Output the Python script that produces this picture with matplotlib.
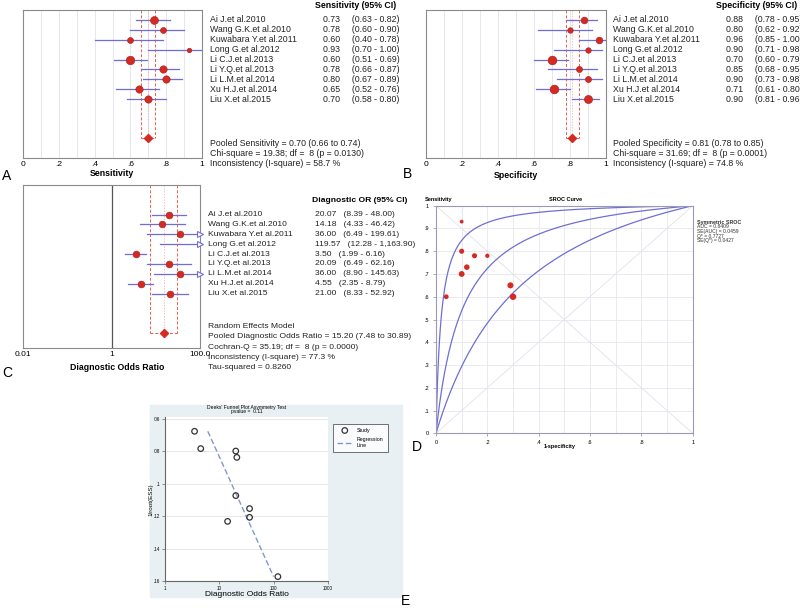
import numpy as np
import matplotlib.pyplot as plt
import matplotlib.transforms as mtransforms
from matplotlib.patches import Rectangle

plt.rcParams['font.family'] = ['Liberation Sans', 'DejaVu Sans']

# ---- data ----
studies = ['Ai J.et al.2010', 'Wang G.K.et al.2010', 'Kuwabara Y.et al.2011',
           'Long G.et al.2012', 'Li C.J.et al.2013', 'Li Y.Q.et al.2013',
           'Li L.M.et al.2014', 'Xu H.J.et al.2014', 'Liu X.et al.2015']

sens = [0.73, 0.78, 0.60, 0.93, 0.60, 0.78, 0.80, 0.65, 0.70]
sens_lo = [0.63, 0.60, 0.40, 0.70, 0.51, 0.66, 0.67, 0.52, 0.58]
sens_hi = [0.82, 0.90, 0.78, 1.00, 0.69, 0.87, 0.89, 0.76, 0.80]
sens_w = [14.2, 8.0, 8.0, 4.7, 16.4, 12.2, 12.2, 12.2, 12.2]
sens_pool = (0.70, 0.66, 0.74)
sens_stats = ['Pooled Sensitivity = 0.70 (0.66 to 0.74)',
              'Chi-square = 19.38; df =  8 (p = 0.0130)',
              'Inconsistency (I-square) = 58.7 %']

spec = [0.88, 0.80, 0.96, 0.90, 0.70, 0.85, 0.90, 0.71, 0.90]
spec_lo = [0.78, 0.62, 0.85, 0.71, 0.60, 0.68, 0.73, 0.61, 0.81]
spec_hi = [0.95, 0.92, 1.00, 0.98, 0.79, 0.95, 0.98, 0.80, 0.96]
spec_w = [10.2, 6.8, 10.2, 6.8, 17.2, 8.4, 8.4, 17.2, 14.9]
spec_pool = (0.81, 0.78, 0.85)
spec_stats = ['Pooled Specificity = 0.81 (0.78 to 0.85)',
              'Chi-square = 31.69; df =  8 (p = 0.0001)',
              'Inconsistency (I-square) = 74.8 %']

dor = [20.07, 14.18, 36.00, 119.57, 3.50, 20.09, 36.00, 4.55, 21.00]
dor_lo = [8.39, 4.33, 6.49, 12.28, 1.99, 6.49, 8.90, 2.35, 8.33]
dor_hi = [48.00, 46.42, 199.61, 1163.90, 6.16, 62.16, 145.63, 8.79, 52.92]
dor_w = [11.5, 11.0, 11.0, 9.0, 11.5, 11.5, 11.5, 11.5, 11.5]
dor_pool = (15.20, 7.48, 30.89)
dor_stats = ['Random Effects Model',
             'Pooled Diagnostic Odds Ratio = 15.20 (7.48 to 30.89)',
             'Cochran-Q = 35.19; df =  8 (p = 0.0000)',
             'Inconsistency (I-square) = 77.3 %',
             'Tau-squared = 0.8260']

sroc_dor = [3.75, 10.5, 50.0]
sroc_stats = ['AUC = 0.8409', 'SE(AUC) = 0.0459', 'Q* = 0.7727', 'SE(Q*) = 0.0427']

# Deeks funnel: 1/root(ESS) per study
inv_ess = [0.0798, 0.1232, 0.1153, 0.1573, 0.0676, 0.1073, 0.1207, 0.0783, 0.0837]
deeks_p = 0.11

W, H = 800, 615
RED = '#d42a22'
BLUE = '#6e6ed6'
fig = plt.figure(figsize=(8, 6.15), dpi=100)


def add_ax(x0, y0, x1, y1):
    return fig.add_axes([x0 / W, 1 - y1 / H, (x1 - x0) / W, (y1 - y0) / H])


def ftext(x, y, s, **kw):
    fig.text(x / W, 1 - y / H, s, **kw)


def forest(ax, est, lo, hi, w, pool, rows, prow, xmin, xmax, k):
    for i in range(len(est)):
        y = rows[i]
        ax.plot([max(lo[i], xmin), min(hi[i], xmax)], [y, y], color=BLUE, lw=0.9, zorder=2)
        if hi[i] > xmax:
            ax.plot([xmax], [y], marker='>', ms=5, mfc='white', mec=BLUE, mew=0.8,
                    clip_on=False, zorder=3)
        if xmin <= est[i] <= xmax:
            ax.scatter([est[i]], [y], s=k * w[i], color=RED, edgecolor='#a81c18',
                       lw=0.4, zorder=4)
    p, pl, ph = pool
    dash = dict(color='#ec5a48', lw=0.7, dashes=(3, 2), zorder=1)
    ax.plot([pl, pl], [0, prow], **dash)
    ax.plot([ph, ph], [0, prow], **dash)
    ax.plot([pl, ph], [prow, prow], **dash)
    ax.plot([p, p], [0, prow], color='#f2a8a0', lw=0.5, dashes=(2, 2), zorder=1)
    ax.plot([p], [prow], marker='D', ms=4.5, color=RED, zorder=4)
    for s in ax.spines.values():
        s.set_color('#8a8a8a')
        s.set_linewidth(0.8)
    ax.set_yticks([])


def row_texts(ax, rows, xname, xval, vals, los, his, header, xhead, yhead, fs, fmt):
    tr = mtransforms.blended_transform_factory(fig.transFigure, ax.transData)
    for i in range(len(rows)):
        ax.text(xname / W, rows[i], studies[i], transform=tr, fontsize=fs, va='center',
                color='#222222')
        ax.text(xval / W, rows[i], fmt(vals[i], los[i], his[i]), transform=tr,
                fontsize=fs, va='center', color='#222222')
    ftext(xhead, yhead, header, fontsize=fs, weight='bold', va='center')


def prop_fmt(v, lo, hi):
    return f'{v:.2f}     ({lo:.2f} - {hi:.2f})'


def dor_fmt(v, lo, hi):
    return f'{v:,.2f}   ({lo:,.2f} - {hi:,.2f})'


# ---- A: sensitivity ----
rowsAB = np.arange(1, 10)
axA = add_ax(23, 10, 202, 158)
axA.set_xlim(0, 1)
axA.set_ylim(14.93, 0)
for g in np.arange(0.1, 1.0, 0.1):
    axA.axvline(g, color='#e2e2ea', lw=0.6, zorder=0)
forest(axA, sens, sens_lo, sens_hi, sens_w, sens_pool, rowsAB, 12.9, 0, 1, 2.3)
axA.set_xticks([0, .2, .4, .6, .8, 1])
axA.set_xticklabels(['0', '.2', '.4', '.6', '.8', '1'], fontsize=6)
axA.tick_params(axis='x', length=0, pad=2)
row_texts(axA, rowsAB, 210, 323, sens, sens_lo, sens_hi, 'Sensitivity (95% CI)',
          315, 6, 6.3, prop_fmt)
for j, s in enumerate(sens_stats):
    ftext(210, 144 + 9.7 * j, s, fontsize=6.3, va='center', color='#222222')
ftext(112, 174, 'Sensitivity', fontsize=6.3, weight='bold', ha='center', va='center')
ftext(7, 176, 'A', fontsize=10, ha='center', va='center')

# ---- B: specificity ----
axB = add_ax(426, 10, 606, 158)
axB.set_xlim(0, 1)
axB.set_ylim(14.93, 0)
for g in np.arange(0.1, 1.0, 0.1):
    axB.axvline(g, color='#e2e2ea', lw=0.6, zorder=0)
forest(axB, spec, spec_lo, spec_hi, spec_w, spec_pool, rowsAB, 12.9, 0, 1, 2.3)
axB.set_xticks([0, .2, .4, .6, .8, 1])
axB.set_xticklabels(['0', '.2', '.4', '.6', '.8', '1'], fontsize=6)
axB.tick_params(axis='x', length=0, pad=2)
row_texts(axB, rowsAB, 613, 725.5, spec, spec_lo, spec_hi, 'Specificity (95% CI)',
          716.5, 6, 6.3, prop_fmt)
for j, s in enumerate(spec_stats):
    ftext(613, 144 + 9.7 * j, s, fontsize=6.3, va='center', color='#222222')
ftext(516, 175, 'Specificity', fontsize=6.3, weight='bold', ha='center', va='center')
ftext(407, 174, 'B', fontsize=10, ha='center', va='center')

# ---- C: diagnostic odds ratio ----
rowsC = np.arange(3, 12)
axC = add_ax(23, 185, 200, 348.3)
axC.set_xscale('log')
axC.set_xlim(0.01, 100)
axC.set_ylim(16.54, 0)
axC.axvline(1, color='#555555', lw=0.9, zorder=1)
forest(axC, dor, dor_lo, dor_hi, dor_w, dor_pool, rowsC, 14.96, 0.01, 100, 2.1)
axC.set_xticks([0.01, 1, 100])
axC.set_xticklabels(['0.01', '1', '100.0'], fontsize=6)
axC.xaxis.set_minor_locator(plt.NullLocator())
axC.tick_params(axis='x', length=0, pad=2)
row_texts(axC, rowsC, 208.3, 315, dor, dor_lo, dor_hi, 'Diagnostic OR (95% CI)',
          311.7, 200, 6.1, dor_fmt)
for j, s in enumerate(dor_stats):
    ftext(208.3, 326.7 + 10.2 * j, s, fontsize=6.1, va='center', color='#222222')
ftext(117, 368, 'Diagnostic Odds Ratio', fontsize=6.3, weight='bold', ha='center', va='center')
ftext(7, 373, 'C', fontsize=10, ha='center', va='center')

# ---- D: SROC ----
axD = add_ax(436, 205.7, 692.7, 433.3)
axD.set_xlim(0, 1)
axD.set_ylim(0, 1)
for g in np.arange(0.1, 1.0, 0.1):
    axD.axvline(g, color='#e6e6ee', lw=0.6, zorder=0)
    axD.axhline(g, color='#e6e6ee', lw=0.6, zorder=0)
axD.plot([0, 1], [0, 1], color='#e2e2ea', lw=0.6, zorder=0)
axD.plot([0, 1], [1, 0], color='#e2e2ea', lw=0.6, zorder=0)
fpr = np.linspace(0, 1, 300)
for d in sroc_dor:
    axD.plot(fpr, d * fpr / ((1 - fpr) + d * fpr), color=BLUE, lw=0.9, zorder=2)
d_w = [(a + b) / 2 for a, b in zip(sens_w, spec_w)]
axD.scatter(1 - np.array(spec), sens, s=[1.3 * v for v in d_w], color=RED, lw=0, zorder=3)
axD.set_xticks([0, .2, .4, .6, .8, 1])
axD.set_xticklabels(['0', '.2', '.4', '.6', '.8', '1'], fontsize=4)
axD.set_yticks(np.round(np.arange(0, 1.01, 0.1), 1))
axD.set_yticklabels(['0'] + ['.%d' % i for i in range(1, 10)] + ['1'], fontsize=4)
axD.tick_params(length=2, width=0.5, color='#888888', pad=3)
for s in axD.spines.values():
    s.set_color('#9a9ab4')
    s.set_linewidth(0.8)
ftext(439, 199.5, 'Sensitivity', fontsize=4, weight='bold', ha='center', va='center')
ftext(565.5, 199.5, 'SROC Curve', fontsize=4, weight='bold', ha='center', va='center')
ftext(560, 446.5, '1-specificity', fontsize=4, weight='bold', ha='center', va='center')
ftext(697.3, 222.3, 'Symmetric SROC', fontsize=3.8, weight='bold', va='center', color='#333333')
for j, s in enumerate(sroc_stats):
    ftext(697.3, 227 + 4.6 * j, s, fontsize=3.6, va='center', color='#333333')
ftext(417, 447, 'D', fontsize=10, ha='center', va='center')

# ---- E: Deeks' funnel plot ----
fig.patches.append(Rectangle((150 / W, 1 - 597 / H), 252 / W, 192 / H,
                             transform=fig.transFigure, color='#e8f0f4', zorder=-5))
axE = add_ax(165, 416.7, 328, 581)
axE.set_facecolor('white')
axE.set_xscale('log')
axE.set_xlim(1, 1000)
axE.set_ylim(0.16, 0.0586)
yt = [0.06, 0.08, 0.10, 0.12, 0.14, 0.16]
axE.set_yticks(yt)
axE.set_yticklabels(['.06', '.08', '.1', '.12', '.14', '.16'], fontsize=3.3)
for v in yt:
    axE.axhline(v, color='#e4e4e4', lw=0.6, zorder=0)
axE.set_xticks([1, 10, 100, 1000])
axE.set_xticklabels(['1', '10', '100', '1000'], fontsize=3.3)
axE.xaxis.set_minor_locator(plt.NullLocator())
axE.tick_params(length=2, width=0.5, color='#666666', pad=1.5)
for side in ['top', 'right']:
    axE.spines[side].set_visible(False)
for side in ['left', 'bottom']:
    axE.spines[side].set_color('#666666')
    axE.spines[side].set_linewidth(0.8)
ldor = np.log10(dor)
slope, icpt = np.polyfit(inv_ess, ldor, 1)
yy = np.array([min(inv_ess), max(inv_ess)])
axE.plot(10 ** (icpt + slope * yy), yy, color='#8098cc', lw=1.0, dashes=(4, 2),
         label='Regression\nLine', zorder=2)
axE.scatter(dor, inv_ess, s=16, facecolor='none', edgecolor='#333333', lw=0.9,
            label='Study', zorder=3)
h, l = axE.get_legend_handles_labels()
leg = axE.legend(h[::-1], l[::-1], loc='upper left', bbox_to_anchor=(330 / W, 1 - 421 / H),
                 bbox_transform=fig.transFigure, fontsize=3.8, frameon=True, fancybox=False,
                 borderpad=0.8, handlelength=3, labelspacing=0.8)
leg.get_frame().set_edgecolor('#333333')
leg.get_frame().set_linewidth(0.6)
ftext(247, 407, "Deeks' Funnel Plot Asymmetry Test", fontsize=3.6, ha='center', va='center')
ftext(247, 412, f'pvalue =  {deeks_p:.2f}', fontsize=3.6, ha='center', va='center')
ftext(151, 500, '1/root(ESS)', fontsize=4.5, rotation=90, ha='center', va='center')
ftext(247, 594, 'Diagnostic Odds Ratio', fontsize=6, ha='center', va='center')
ftext(405, 601, 'E', fontsize=10, ha='center', va='center')

fig.savefig('out.png', dpi=100)
